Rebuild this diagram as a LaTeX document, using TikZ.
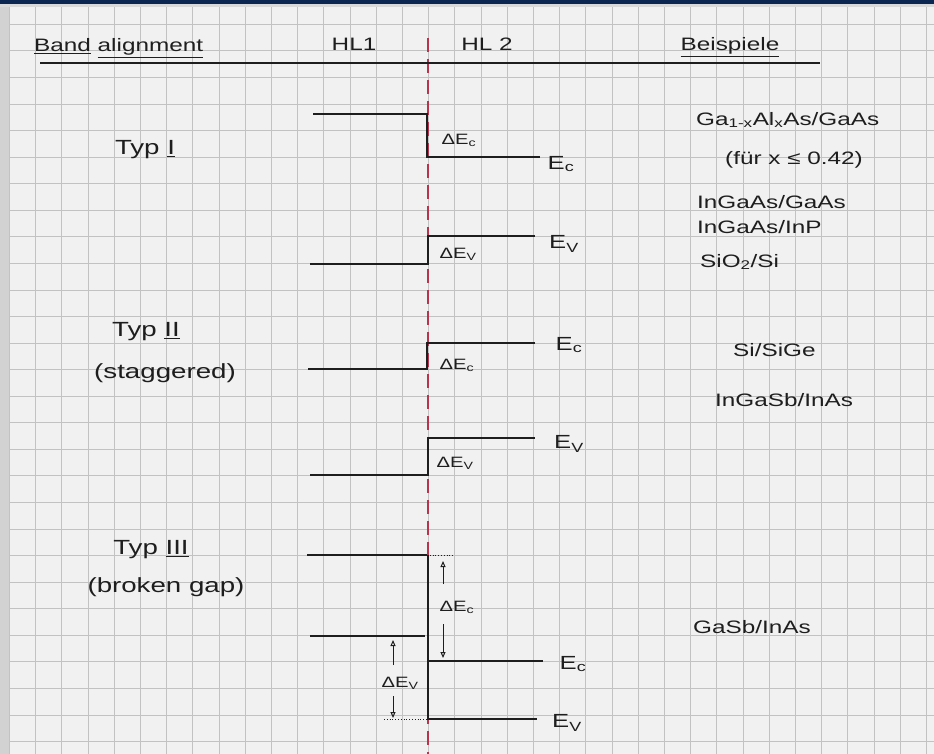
\documentclass[tikz,border=0pt]{standalone}
\usepackage{fontspec}
\setmainfont{Liberation Sans}[FakeStretch=1.35]
\usetikzlibrary{arrows.meta}
\definecolor{navy}{HTML}{0B2650}
\definecolor{paper}{HTML}{F1F1F1}
\definecolor{gridc}{HTML}{C2C2C2}
\definecolor{redline}{HTML}{B8344E}
\definecolor{ink}{HTML}{1E1E1E}
\begin{document}
\begin{tikzpicture}[x=1pt,y=-1pt,
 band/.style={draw=ink,line width=2.2pt},
 gridline/.style={draw=gridc,line width=1pt},
 lbl/.style={inner sep=0pt,text=ink},
 small/.style={lbl,font=\fontsize{15}{17}\selectfont},
 big/.style={lbl,font=\fontsize{19}{21}\selectfont},
 ex/.style={lbl,font=\fontsize{18}{20}\selectfont,anchor=west},
 head/.style={lbl,font=\fontsize{18}{20}\selectfont},
 typ/.style={lbl,font=\fontsize{20.5}{22}\selectfont},
 arr/.style={draw=ink,line width=1pt,-{Triangle[open,length=6pt,width=5pt]}},
 dots/.style={draw=ink,line width=0.8pt,dotted}
]
\useasboundingbox (0,0) rectangle (934,754);
\fill[paper] (0,0) rectangle (934,754);
\fill[gray!35] (0,0) rectangle (9,754);
\fill[gray!30] (0,4) rectangle (934,7);
\fill[navy] (0,0) rectangle (934,4);
\foreach \k in {0,...,35} \draw[gridline] ({9.4+26.2*\k},7) -- ({9.4+26.2*\k},754);
\foreach \k in {0,...,27} \draw[gridline] (9,{24.3+26.57*\k}) -- (934,{24.3+26.57*\k});

% interface line
\coordinate (rt) at (428,38);
\coordinate (rb) at (428,754);
\draw[redline,line width=1.4pt,dash pattern=on 14pt off 7pt] (rt) -- (rb);

% header
\node[head,anchor=base west] (band) at (34,52) {\underline{Band} \underline{alignment}};
\node[head,anchor=base] (hl1) at (354,51) {HL1};
\node[head,anchor=base] (hl2) at (487,51) {HL 2};
\node[head,anchor=base] (bsp) at (730,51) {\underline{Beispiele}};
\coordinate (ul1) at (40,63);
\coordinate (ul2) at (820,63);
\draw[ink,line width=1.6pt] (ul1) -- (ul2);

% Typ I
\node[typ] (t1) at (145,150) {Typ \underline{I}};
\coordinate (a1) at (313,114); \coordinate (a2) at (427,114);
\coordinate (a3) at (427,157); \coordinate (a4) at (540,157);
\draw[band] (a1) -- (a2) -- (a3) -- (a4);
\coordinate (b1) at (310,264); \coordinate (b2) at (428,264);
\coordinate (b3) at (428,236); \coordinate (b4) at (535,236);
\draw[band] (b1) -- (b2) -- (b3) -- (b4);
\node[small] (dec1) at (459,140) {ΔE\textsubscript{c}};
\node[big] (ec1) at (561,164) {E\textsubscript{c}};
\node[small] (dev1) at (458,254) {ΔE\textsubscript{V}};
\node[big] (ev1) at (564,244) {E\textsubscript{V}};

% Typ II
\node[typ] (t2) at (146,332) {Typ \underline{II}};
\node[typ] (t2b) at (165,373) {(staggered)};
\coordinate (c1) at (308,369); \coordinate (c2) at (427,369);
\coordinate (c3) at (427,343); \coordinate (c4) at (535,343);
\draw[band] (c1) -- (c2) -- (c3) -- (c4);
\coordinate (d1) at (310,475); \coordinate (d2) at (428,475);
\coordinate (d3) at (428,438); \coordinate (d4) at (535,438);
\draw[band] (d1) -- (d2) -- (d3) -- (d4);
\node[small] (dec2) at (457,365) {ΔE\textsubscript{c}};
\node[big] (ec2) at (569,345) {E\textsubscript{c}};
\node[small] (dev2) at (455,463) {ΔE\textsubscript{V}};
\node[big] (ev2) at (569,444) {E\textsubscript{V}};

% Typ III
\node[typ] (t3) at (151,550) {Typ \underline{III}};
\node[typ] (t3b) at (166,587) {(broken gap)};
\coordinate (e1) at (307,555); \coordinate (e2) at (427,555); \coordinate (e3) at (454,555);
\draw[band] (e1) -- (e2);
\draw[dots] (e2) -- (e3);
\coordinate (f1) at (310,636); \coordinate (f2) at (425,636);
\draw[band] (f1) -- (f2);
\coordinate (g1) at (428,555); \coordinate (g2) at (428,661); \coordinate (g3) at (543,661);
\coordinate (g4) at (428,719); \coordinate (g5) at (537,719);
\draw[band] (g1) -- (g4) -- (g5);
\draw[band] (g2) -- (g3);
\coordinate (h1) at (443,584); \coordinate (h2) at (443,561);
\coordinate (h3) at (443,624); \coordinate (h4) at (443,658);
\draw[arr] (h1) -- (h2);
\draw[arr] (h3) -- (h4);
\node[small] (dec3) at (457,607) {ΔE\textsubscript{c}};
\coordinate (k1) at (393,665); \coordinate (k2) at (393,640);
\coordinate (k3) at (393,696); \coordinate (k4) at (393,718);
\draw[arr] (k1) -- (k2);
\draw[arr] (k3) -- (k4);
\node[small] (dev3) at (400,683) {ΔE\textsubscript{V}};
\coordinate (m1) at (384,719);
\draw[dots] (m1) -- (g4);
\node[big] (ec3) at (573,664) {E\textsubscript{c}};
\node[big] (ev3) at (567,723) {E\textsubscript{V}};

% Beispiele
\node[ex] (x1) at (696,120) {Ga\textsubscript{1-x}Al\textsubscript{x}As/GaAs};
\node[ex,anchor=center] (x2) at (794,160) {(für x ≤ 0.42)};
\node[ex] (x3) at (697,202) {InGaAs/GaAs};
\node[ex] (x4) at (697,227) {InGaAs/InP};
\node[ex] (x5) at (700,262) {SiO\textsubscript{2}/Si};
\node[ex] (x6) at (733,350) {Si/SiGe};
\node[ex] (x7) at (715,400) {InGaSb/InAs};
\node[ex] (x8) at (693,627) {GaSb/InAs};
\end{tikzpicture}
\end{document}
